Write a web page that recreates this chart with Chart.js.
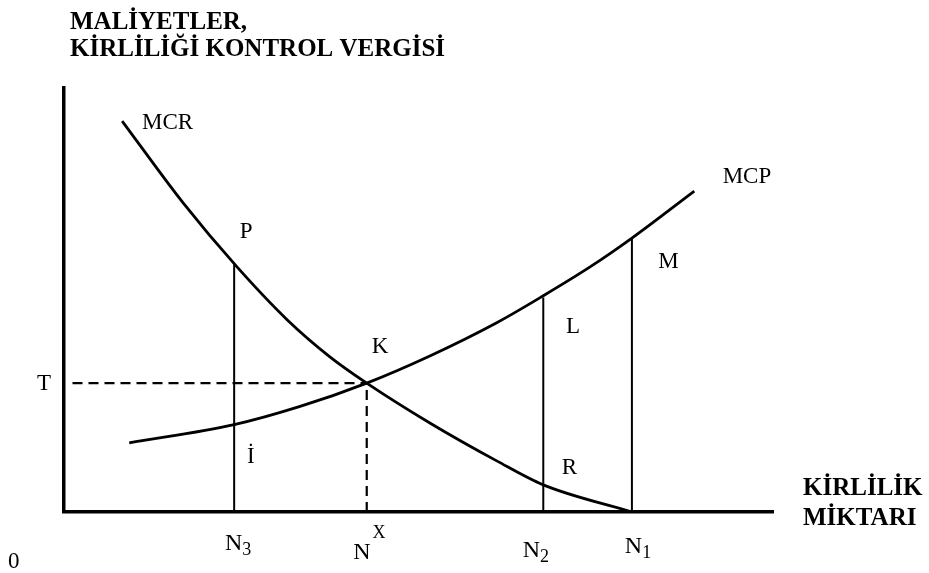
<!DOCTYPE html>
<html>
<head>
<meta charset="utf-8">
<script src="https://cdn.jsdelivr.net/npm/chart.js@4/dist/chart.umd.min.js"></script>
<style>
  html, body { margin: 0; padding: 0; background: #fff; }
  #wrap { width: 929px; height: 573px; position: relative; }
</style>
</head>
<body>
<div id="wrap"><canvas id="pollutionChart"></canvas></div>
<script>
// curve values (x = pollution amount, y = cost / tax)
const mcrX = [8.2, 16.8, 24.4, 31.5, 37.5, 42.7, 51.6, 61.1, 67.6, 80.1];
const mcrY = [92.2, 72.9, 57.8, 45.3, 36.6, 30.4, 21.0, 12.0, 6.4, 0];
const mcpX = [9.2, 24.0, 33.3, 42.7, 51.6, 61.1, 67.6, 74.2, 80.1, 88.9];
const mcpY = [16.3, 20.6, 24.9, 30.4, 36.8, 44.7, 51.0, 57.8, 64.6, 75.7];

// quantities on the x axis and the heights the verticals reach
const qLabels = ['N3', 'Nx', 'N2', 'N1'];
const qValues = [24.0, 42.7, 67.6, 80.1];
const qTops = [58.4, 30.4, 50.6, 64.6];
const taxT = 30.4;

const toPoints = (xs, ys) => xs.map((x, i) => ({ x, y: ys[i] }));

const curveStyle = { showLine: true, pointRadius: 0, borderColor: '#000', borderWidth: 2.8, cubicInterpolationMode: 'monotone' };
const dropStyle = { showLine: true, pointRadius: 0, borderColor: '#000', borderWidth: 2 };
const dashStyle = { showLine: true, pointRadius: 0, borderColor: '#000', borderWidth: 2.2, borderDash: [10, 6] };

const datasets = [
  { label: 'MCR', data: toPoints(mcrX, mcrY), ...curveStyle },
  { label: 'MCP', data: toPoints(mcpX, mcpY), ...curveStyle },
  { label: 'T', data: [{ x: 1.2, y: taxT }, { x: qValues[1], y: taxT }], ...dashStyle },
];
qLabels.forEach((name, i) => {
  const style = name === 'Nx' ? dashStyle : dropStyle;
  datasets.push({ label: name, data: [{ x: qValues[i], y: 0 }, { x: qValues[i], y: qTops[i] }], ...style });
});

// text labels placed in data units (left edge, baseline)
const pointNotes = [
  { text: 'MCR', x: 11.0, y: 90.3 },
  { text: 'P', x: 24.8, y: 64.6 },
  { text: 'K', x: 43.4, y: 37.5 },
  { text: 'İ', x: 25.8, y: 11.6 },
  { text: 'L', x: 70.8, y: 42.2 },
  { text: 'M', x: 83.8, y: 57.5 },
  { text: 'MCP', x: 92.9, y: 77.6 },
  { text: 'R', x: 70.2, y: 9.0 },
  { text: 'T', x: -3.8, y: 28.8 },
  { text: '0', x: -7.9, y: -13.2 },
];
const qNotes = [
  { main: 'N', sub: '3', x: 22.7, y: -9.0 },
  { main: 'N', sup: 'X', x: 40.8, y: -11.1 },
  { main: 'N', sub: '2', x: 64.7, y: -10.6 },
  { main: 'N', sub: '1', x: 79.1, y: -9.7 },
];

const serif = '"Liberation Serif", "DejaVu Serif", serif';

const labelPlugin = {
  id: 'labels',
  afterDatasetsDraw(chart) {
    const { ctx, scales: { x, y } } = chart;
    ctx.save();
    ctx.fillStyle = '#000';
    ctx.textBaseline = 'alphabetic';
    ctx.textAlign = 'left';

    ctx.font = '23px ' + serif;
    pointNotes.forEach(n => ctx.fillText(n.text, x.getPixelForValue(n.x), y.getPixelForValue(n.y)));

    qNotes.forEach(n => {
      const px = x.getPixelForValue(n.x);
      const py = y.getPixelForValue(n.y);
      ctx.font = '24px ' + serif;
      ctx.fillText(n.main, px, py);
      const w = ctx.measureText(n.main).width;
      ctx.font = '18px ' + serif;
      if (n.sub) ctx.fillText(n.sub, px + w, py + 5);
      if (n.sup) ctx.fillText(n.sup, px + w + 2, py - 21);
    });

    // axis titles
    ctx.font = 'bold 25px ' + serif;
    ctx.fillText('MALİYETLER,', 70, 29);
    ctx.fillText('KİRLİLİĞİ KONTROL VERGİSİ', 70, 56);
    ctx.fillText('KİRLİLİK', 803, 495);
    ctx.fillText('MİKTARI', 803, 525);
    ctx.restore();
  }
};

const axisStyle = {
  display: true,
  min: 0,
  max: 100,
  ticks: { display: false },
  grid: { display: false, drawTicks: false },
  border: { display: true, color: '#000', width: 3.5 },
};

new Chart(document.getElementById('pollutionChart'), {
  type: 'scatter',
  data: { datasets },
  options: {
    responsive: true,
    maintainAspectRatio: false,
    animation: false,
    layout: { padding: { left: 64, top: 88, right: 156, bottom: 61 } },
    plugins: { legend: { display: false }, tooltip: { enabled: false } },
    scales: {
      x: { type: 'linear', ...axisStyle },
      y: { type: 'linear', ...axisStyle },
    },
  },
  plugins: [labelPlugin],
});
</script>
</body>
</html>
